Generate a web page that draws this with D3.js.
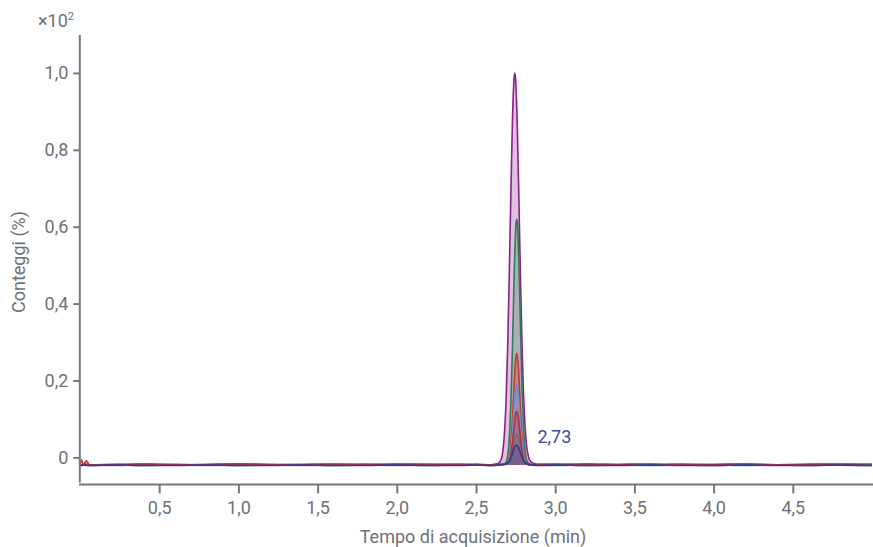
<!DOCTYPE html>
<html>
<head>
<meta charset="utf-8">
<script src="https://cdn.jsdelivr.net/npm/d3@7"></script>
<style>
  html, body { margin: 0; padding: 0; background: #fff; }
  svg { display: block; font-family: Roboto, "Noto Sans", sans-serif; }
</style>
</head>
<body>
<svg id="chart" width="873" height="547"></svg>
<script>
// ---- data (×10² %) ----
const times = [0.00,0.01,0.02,0.04,0.06,0.2,0.4,0.6,0.8,1.0,1.2,1.4,1.6,1.8,2.0,2.2,2.4,2.5,2.6,2.62,
  2.64,2.66,2.67,2.68,2.69,2.70,2.71,2.72,2.73,2.74,2.745,2.75,2.755,2.76,2.77,2.78,2.79,2.80,2.81,2.82,2.83,2.84,2.86,
  2.9,3.0,3.2,3.4,3.6,3.8,4.0,4.2,4.4,4.6,4.8,5.0];

const purpleValues = [-0.019,-0.020,-0.018,-0.019,-0.020,-0.019,-0.018,-0.020,-0.019,-0.017,-0.019,-0.020,-0.018,-0.019,-0.017,-0.019,-0.018,-0.019,-0.019,-0.018,
  -0.016,-0.004,0.018,0.065,0.151,0.287,0.474,0.684,0.873,0.985,1.000,0.985,0.941,0.873,0.690,0.482,0.300,0.165,0.078,0.028,0.004,-0.008,-0.015,
  -0.018,-0.019,-0.017,-0.019,-0.020,-0.018,-0.019,-0.018,-0.020,-0.019,-0.018,-0.019];
const greenValues = [-0.020,-0.019,-0.020,-0.018,-0.019,-0.020,-0.019,-0.018,-0.020,-0.019,-0.018,-0.019,-0.020,-0.018,-0.019,-0.020,-0.019,-0.018,-0.020,-0.019,
  -0.019,-0.018,-0.018,-0.017,-0.012,0.004,0.047,0.138,0.283,0.457,0.534,0.590,0.619,0.616,0.519,0.352,0.190,0.077,0.017,-0.007,-0.015,-0.017,-0.019,
  -0.019,-0.018,-0.020,-0.019,-0.018,-0.019,-0.020,-0.018,-0.019,-0.020,-0.019,-0.018];
const tealValues = [-0.020,-0.020,-0.019,-0.020,-0.021,-0.020,-0.021,-0.019,-0.020,-0.021,-0.020,-0.019,-0.021,-0.020,-0.019,-0.021,-0.020,-0.020,-0.021,-0.020,
  -0.019,-0.019,-0.018,-0.018,-0.017,-0.015,-0.012,-0.002,0.017,0.040,0.050,0.057,0.061,0.060,0.049,0.031,0.012,0.000,-0.012,-0.017,-0.018,-0.019,-0.019,
  -0.020,-0.021,-0.019,-0.020,-0.021,-0.020,-0.019,-0.021,-0.020,-0.019,-0.020,-0.021];
const redValues = [-0.019,-0.006,-0.019,-0.008,-0.019,-0.018,-0.017,-0.019,-0.018,-0.017,-0.019,-0.018,-0.017,-0.019,-0.018,-0.017,-0.019,-0.018,-0.019,-0.018,
  -0.019,-0.018,-0.018,-0.018,-0.017,-0.013,0.000,0.034,0.098,0.183,0.223,0.254,0.270,0.268,0.216,0.131,0.056,0.011,-0.009,-0.016,-0.018,-0.018,-0.019,
  -0.018,-0.017,-0.019,-0.018,-0.017,-0.019,-0.018,-0.017,-0.019,-0.018,-0.017,-0.018];
const lightBlueValues = [-0.020,-0.021,-0.020,-0.019,-0.020,-0.021,-0.019,-0.020,-0.021,-0.019,-0.020,-0.021,-0.020,-0.019,-0.021,-0.020,-0.019,-0.020,-0.021,-0.020,
  -0.019,-0.019,-0.019,-0.018,-0.017,-0.014,-0.005,0.019,0.065,0.125,0.154,0.176,0.187,0.186,0.149,0.088,0.035,0.003,-0.012,-0.017,-0.019,-0.019,-0.019,
  -0.020,-0.019,-0.021,-0.020,-0.019,-0.020,-0.021,-0.019,-0.020,-0.021,-0.020,-0.019];
const red2Values = [-0.019,-0.020,-0.019,-0.018,-0.019,-0.020,-0.018,-0.019,-0.020,-0.018,-0.019,-0.020,-0.019,-0.018,-0.020,-0.019,-0.018,-0.020,-0.019,-0.019,
  -0.019,-0.019,-0.019,-0.019,-0.018,-0.016,-0.009,0.007,0.037,0.077,0.096,0.111,0.119,0.118,0.093,0.053,0.017,-0.004,-0.014,-0.017,-0.019,-0.019,-0.019,
  -0.019,-0.020,-0.018,-0.019,-0.020,-0.018,-0.019,-0.020,-0.019,-0.018,-0.019,-0.020];
const darkBlueValues = [-0.021,-0.021,-0.020,-0.021,-0.021,-0.020,-0.021,-0.021,-0.020,-0.021,-0.021,-0.020,-0.021,-0.021,-0.020,-0.021,-0.021,-0.020,-0.021,-0.021,
  -0.020,-0.019,-0.018,-0.017,-0.016,-0.014,-0.010,-0.001,0.010,0.024,0.028,0.031,0.032,0.031,0.024,0.012,0.001,-0.008,-0.013,-0.016,-0.018,-0.019,-0.020,
  -0.021,-0.020,-0.021,-0.021,-0.020,-0.021,-0.021,-0.020,-0.021,-0.021,-0.020,-0.021];

const seriesNames = ["purple","green","teal","red","lightBlue","red2","darkBlue"];
const seriesValues = [purpleValues, greenValues, tealValues, redValues, lightBlueValues, red2Values, darkBlueValues];
const seriesColors = ["#8c1f8c","#2f7d52","#1f9b98","#c8362f","#6c8ed6","#b0303c","#2f3a98"];

const xTicks = [0.5,1.0,1.5,2.0,2.5,3.0,3.5,4.0,4.5];
const yTicks = [0,0.2,0.4,0.6,0.8,1.0];
const peakLabel = "2,73";
const peakLabelTime = 2.73;

// ---- chart ----
const svg = d3.select("#chart");
const axisColor = "#75787e";
const textColor = "#6e7178";
const fmt = v => v === 0 ? "0" : d3.format(".1f")(v).replace(".", ",");

const x = d3.scaleLinear().domain([0, 5]).range([80, 872]);
const y = d3.scaleLinear().domain([-0.064, 1.1]).range([482, 34.5]);
const baseVal = -0.02;

const plot = svg.append("g");
seriesValues.forEach((vals, i) => {
  const pts = times.map((t, j) => ({t, v: vals[j]}));
  const area = d3.area()
    .x(d => x(d.t))
    .y0(d => y(Math.min(d.v, baseVal)))
    .y1(d => y(d.v))
    .curve(d3.curveMonotoneX);
  const line = d3.line()
    .x(d => x(d.t))
    .y(d => y(d.v))
    .curve(d3.curveMonotoneX);
  plot.append("path").datum(pts)
    .attr("d", area)
    .attr("fill", seriesColors[i])
    .attr("fill-opacity", 0.28);
  plot.append("path").datum(pts)
    .attr("d", line)
    .attr("fill", "none")
    .attr("stroke", seriesColors[i])
    .attr("stroke-width", 1.6)
    .attr("stroke-linejoin", "round");
});

// peak label
svg.append("text")
  .attr("x", x(peakLabelTime) + 25)
  .attr("y", 443)
  .attr("fill", "#3a4a9e")
  .attr("font-size", 18)
  .text(peakLabel);

// x axis
const gx = svg.append("g")
  .attr("transform", "translate(0,484.5)")
  .call(d3.axisBottom(x).tickValues(xTicks).tickSize(9).tickSizeOuter(0).tickPadding(8).tickFormat(fmt));
gx.select(".domain").attr("stroke", axisColor).attr("stroke-width", 2).attr("d", "M79,0H873");
gx.selectAll(".tick line").attr("stroke", axisColor).attr("stroke-width", 2);
gx.selectAll(".tick text").attr("fill", textColor).attr("font-size", 18).attr("font-family", "Roboto");

// y axis
const gy = svg.append("g")
  .attr("transform", "translate(79.3,0)")
  .call(d3.axisLeft(y).tickValues(yTicks).tickSize(6).tickSizeOuter(0).tickPadding(5).tickFormat(fmt));
gy.select(".domain").attr("stroke", axisColor).attr("stroke-width", 2);
gy.selectAll(".tick line").attr("stroke", axisColor).attr("stroke-width", 2);
gy.selectAll(".tick text").attr("fill", textColor).attr("font-size", 18).attr("font-family", "Roboto");

// multiplier
const mult = svg.append("text")
  .attr("x", 38).attr("y", 27)
  .attr("fill", textColor).attr("font-size", 18);
mult.append("tspan").text("×10");
mult.append("tspan").attr("font-size", 11).attr("dy", -7).text("2");

// axis titles
svg.append("text")
  .attr("x", 473).attr("y", 543)
  .attr("text-anchor", "middle")
  .attr("fill", textColor).attr("font-size", 18)
  .text("Tempo di acquisizione (min)");
svg.append("text")
  .attr("transform", "translate(25,262) rotate(-90)")
  .attr("text-anchor", "middle")
  .attr("fill", textColor).attr("font-size", 18)
  .text("Conteggi (%)");
</script>
</body>
</html>
